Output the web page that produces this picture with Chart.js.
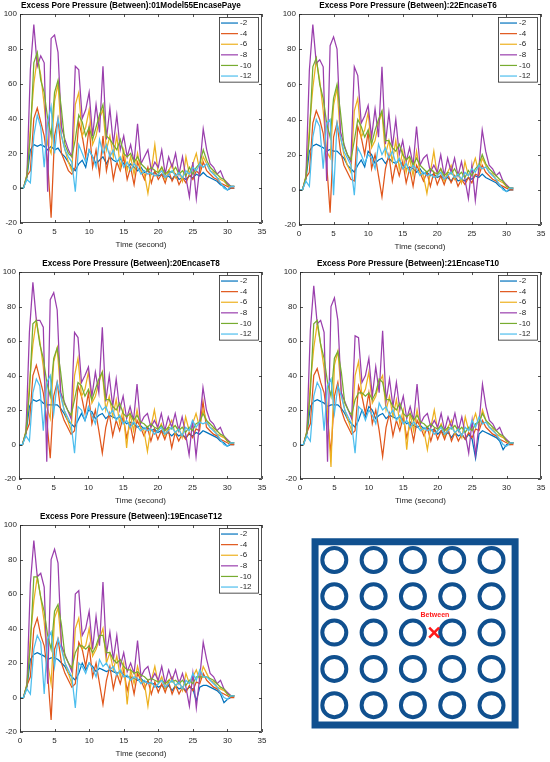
<!DOCTYPE html>
<html>
<head>
<meta charset="utf-8">
<script src="https://cdn.jsdelivr.net/npm/chart.js@4.4.1/dist/chart.umd.min.js"></script>
<style>
html, body { margin: 0; padding: 0; background: #fff; overflow: hidden; }
body { width: 550px; height: 762px; position: relative; }
canvas { position: absolute; }
</style>
</head>
<body>
<canvas id="c1" width="282" height="250" style="left:0px;top:0px"></canvas>
<canvas id="c2" width="290" height="252" style="left:275px;top:0px"></canvas>
<canvas id="c3" width="281" height="256" style="left:0px;top:250px"></canvas>
<canvas id="c4" width="291" height="256" style="left:275px;top:250px"></canvas>
<canvas id="c5" width="282" height="259" style="left:0px;top:500px"></canvas>
<canvas id="c6" width="275" height="262" style="left:275px;top:500px"></canvas>
<script>
// time axis (seconds)
const time = [0,0.5,1,1.5,2,2.5,3,3.5,4,4.5,5,5.5,6,6.5,7,7.5,8,8.5,9,9.5,10,10.5,11,11.5,12,12.5,13,13.5,14,14.5,15,15.5,16,16.5,17,17.5,18,18.5,19,19.5,20,20.5,21,21.5,22,22.5,23,23.5,24,24.5,25,25.5,26,26.5,27,27.5,28,28.5,29,29.5,30,30.5,31];

const depthLabels = ['-2','-4','-6','-8','-10','-12'];
const depthColors = ['#0072BD','#E0561B','#EDB120','#9A3FAD','#77AC30','#4DBEEE'];
const xTicks = [0,5,10,15,20,25,30,35];
const yTicks = [-20,0,20,40,60,80,100];

const titles = [
  'Excess Pore Pressure (Between):01Model55EncasePaye',
  'Excess Pore Pressure (Between):22EncaseT6',
  'Excess Pore Pressure (Between):20EncaseT8',
  'Excess Pore Pressure (Between):21EncaseT10',
  'Excess Pore Pressure (Between):19EncaseT12'
];

// panel 1 : 01Model55EncasePaye
const p1_m2  = [0,0,6,22,25,24,25,24,22,24, 22,23,20,18,15,12,10,14,16,12, 22,18,14,16,18,14,18,16,15,17, 14,12,14,12,10,12,9,10,8,9, 7,8,6,7,5,8,5,6,5,7, 6,8,7,9,7,6,5,4,2,1, -1,0,0];
const p1_m4  = [0,0,7,10,40,46,38,30,15,-17, 30,40,20,15,10,8,12,38,30,18, 35,12,22,8,30,10,20,5,15,10, 18,5,12,2,15,10,5,12,3,10, 5,8,3,10,4,8,2,6,3,8, 5,10,8,15,10,8,6,5,3,2, 1,0,0];
const p1_m6  = [0,0,8,35,60,75,65,48,25,20, 50,60,30,22,15,10,48,55,30,35, 45,25,30,40,45,22,30,18,30,12, 22,10,18,8,20,10,8,-3,10,25, 8,12,5,10,14,6,10,4,18,8, 14,20,10,18,14,10,9,6,5,4, 2,1,1];
const p1_m8  = [0,0,7,68,94,70,76,72,-2,86, 88,78,35,28,22,18,70,68,40,45, 55,30,48,32,70,28,46,25,42,22, 30,18,25,15,37,14,18,22,10,15, 12,22,8,18,12,20,8,18,6,-5, 15,-6,12,34,22,14,12,8,10,5, 3,1,1];
const p1_m10 = [0,0,7,30,72,78,62,55,40,30, 55,62,45,25,20,18,28,42,38,30, 35,28,35,42,48,30,28,25,22,28, 20,18,20,15,18,14,12,10,12,10, 9,12,8,10,9,12,8,10,7,12, 8,12,14,22,16,12,10,8,6,5, 2,1,1];
const p1_m12 = [0,0,5,3,30,42,35,12,38,47, 20,40,30,22,18,15,-2,25,20,15, 22,18,12,28,20,25,18,22,15,18, 12,15,10,14,12,8,10,8,9,7, 8,10,6,8,10,7,9,6,10,8, 12,10,14,12,14,10,8,6,3,0, -1,1,1];

// panel 2 : 22EncaseT6
const p2_m2  = [0,0,6,22,25,26,25,24,22,23, 22,22,20,18,14,12,10,14,17,13, 22,20,15,17,18,15,18,16,15,17, 14,12,13,12,10,12,9,10,8,9, 7,8,6,7,5,8,5,6,5,7, 6,8,7,9,7,6,5,4,2,1, -1,0,0];
const p2_m4  = [0,0,7,10,38,45,40,32,15,-13, 30,38,22,14,10,6,5,36,30,20, 33,12,20,8,-4,12,20,5,15,8, 16,4,12,2,14,10,5,10,2,10, 3,8,3,9,4,8,2,6,3,7, 4,9,8,14,10,8,6,5,3,2, 1,0,0];
const p2_m6  = [0,0,8,35,58,74,62,45,22,18, 48,58,30,20,14,10,45,52,30,34, 44,24,28,38,44,20,28,16,28,12, 22,10,18,8,22,10,8,-2,10,22, 8,12,5,10,14,6,10,4,16,8, 12,18,10,18,14,10,9,6,5,4, 2,1,1];
const p2_m8  = [0,0,7,68,94,72,74,70,5,82, 87,80,33,26,20,16,70,65,38,42, 48,30,46,30,70,26,44,24,40,20, 28,16,24,14,36,14,18,20,10,14, 10,20,8,18,10,18,8,16,6,-5, 14,-6,12,34,22,14,12,8,10,5, 3,1,1];
const p2_m10 = [0,0,7,30,70,75,60,52,38,30, 52,60,44,25,20,17,28,40,36,30, 34,26,34,40,45,28,28,24,22,26, 20,17,19,14,18,14,12,10,12,10, 9,12,8,10,9,12,8,10,7,11, 8,12,14,20,15,12,10,8,6,5, 2,1,1];
const p2_m12 = [0,0,5,2,30,40,36,12,38,40, -3,38,30,22,18,14,-3,24,20,15, 20,18,12,26,20,24,18,22,15,18, 12,15,10,14,12,8,10,8,9,7, 8,10,6,8,10,7,9,6,10,8, 12,10,14,12,13,10,8,6,3,0, -1,1,1];

// panel 3 : 20EncaseT8
const p3_m2  = [0,0,6,22,26,25,26,24,23,23, 23,23,21,18,14,12,10,14,18,14, 20,19,15,17,18,15,17,16,15,16, 14,12,13,12,10,11,9,10,8,9, 7,8,6,7,5,7,5,6,4,6, 5,7,6,8,7,6,5,4,2,1, -1,0,0];
const p3_m4  = [0,0,7,12,40,46,38,30,14,-8, 28,36,20,14,10,6,8,34,28,18, 30,12,20,8,-5,10,18,5,14,8, 16,4,12,2,14,10,5,10,2,9, 3,8,3,9,-2,7,2,6,3,7, 4,9,8,25,10,8,6,5,3,2, 1,0,0];
const p3_m6  = [0,0,8,35,58,72,60,45,22,15, 48,56,30,20,14,8,40,50,28,32, 42,24,28,36,42,20,28,16,26,12, 20,-2,18,8,20,10,8,-4,10,20, 8,12,5,10,14,6,10,4,16,8, 12,18,10,20,14,10,9,6,5,4, 2,1,1];
const p3_m8  = [0,0,7,65,94,72,72,68,-10,84, 88,78,30,25,20,15,65,62,36,40, 45,28,42,30,68,25,40,22,38,20, 28,15,22,14,35,12,16,18,10,14, 10,18,8,16,10,18,8,16,6,-6, 14,-7,12,33,20,14,12,8,10,5, 3,1,1];
const p3_m10 = [0,0,7,30,70,72,58,50,36,28, 50,56,42,24,20,17,26,36,34,28, 32,26,32,38,42,26,26,22,20,24, 18,16,18,14,17,13,12,10,12,10, 9,11,8,10,9,11,8,10,7,10, 8,12,13,18,14,12,10,8,6,5, 2,1,1];
const p3_m12 = [0,0,5,2,30,38,34,8,36,40, 18,36,28,20,16,12,-5,22,20,14, 22,17,12,24,20,22,17,20,14,17, 12,14,10,13,11,8,10,8,9,6, 8,10,6,8,10,7,9,5,10,8, 14,10,13,12,13,10,8,6,3,0, -1,1,1];

// panel 4 : 21EncaseT10
const p4_m2  = [0,0,6,22,25,26,25,24,22,23, 23,23,21,18,14,12,10,14,20,16, 22,20,15,17,18,15,17,16,15,16, 14,12,13,11,10,11,9,10,8,9, 6,8,5,7,4,7,5,6,3,6, 3,-8,6,8,7,6,5,4,2,-3, 0,0,1];
const p4_m4  = [0,0,7,12,40,44,36,30,14,-5, 28,36,20,14,10,6,8,34,28,18, 30,12,20,8,-7,10,18,5,14,8, 16,4,12,2,14,10,5,10,2,9, 3,8,3,9,2,7,2,6,3,7, 4,9,8,14,10,8,6,5,3,2, 1,0,0];
const p4_m6  = [0,0,8,35,56,70,58,44,20,-13, 46,54,30,20,14,8,40,48,28,32, 42,24,28,36,40,20,28,16,26,12, 20,-3,18,8,20,10,8,-3,10,20, 8,12,5,10,14,6,10,4,16,8, 12,18,10,20,14,10,9,6,5,4, 2,1,1];
const p4_m8  = [0,0,7,66,92,70,72,65,-10,80, 85,72,30,25,20,15,63,62,36,40, 50,28,45,30,66,25,38,22,36,20, 28,15,22,14,35,12,16,18,10,14, 10,18,8,16,10,18,8,16,6,-5, 14,-6,12,35,22,14,12,8,10,5, 3,1,1];
const p4_m10 = [0,0,7,30,70,72,58,50,36,28, 50,54,42,24,20,17,26,30,30,28, 30,26,30,38,36,26,26,22,20,24, 18,16,18,14,17,13,12,10,12,10, 9,11,8,10,9,11,8,10,7,10, 8,12,13,18,14,12,10,8,6,5, 2,1,1];
const p4_m12 = [0,0,5,2,28,36,32,8,34,38, 18,34,28,20,16,12,-5,22,20,14, 20,17,12,24,20,22,17,20,14,17, 12,14,10,13,11,8,10,8,9,6, 8,10,6,8,10,7,9,5,10,8, 14,10,16,12,13,10,8,6,3,0, -1,1,1];

// panel 5 : 19EncaseT12
const p5_m2  = [0,0,6,22,25,26,25,24,22,23, 23,22,20,18,14,12,10,14,20,16, 20,18,15,17,16,15,16,15,14,15, 13,12,12,11,10,11,9,9,8,8, 6,7,5,7,4,7,5,6,4,6, 5,-2,6,7,7,6,5,4,2,-3, -1,0,1];
const p5_m4  = [0,0,7,12,40,46,36,30,14,-13, 28,34,20,14,10,6,8,32,28,18, 30,12,20,8,-4,10,18,5,14,8, 16,4,12,2,14,10,5,10,2,9, 3,8,3,9,2,7,2,6,3,7, 4,9,8,14,10,8,6,5,3,2, 1,0,0];
const p5_m6  = [0,0,8,35,56,70,58,44,20,8, 46,52,30,20,14,8,40,46,28,30, 40,24,28,34,40,20,26,16,24,12, 20,-4,16,8,18,10,8,-5,10,18, 8,12,5,10,12,6,10,4,14,8, 12,16,10,18,14,10,9,6,5,4, 2,1,1];
const p5_m8  = [0,0,7,66,91,70,72,64,8,80, 86,78,30,25,20,15,60,62,36,40, 50,28,47,30,67,25,38,22,36,18, 26,15,20,14,33,12,16,18,10,14, 10,18,8,16,10,16,8,14,6,-5, 14,-6,12,32,22,14,12,8,10,5, 3,1,1];
const p5_m10 = [0,0,7,30,70,70,58,50,36,28, 50,54,42,24,20,17,26,30,30,28, 30,26,30,36,36,26,26,22,20,22, 18,16,16,14,15,13,12,10,11,10, 9,10,8,10,9,10,8,10,7,10, 8,12,12,12,12,11,10,8,6,5, 2,1,1];
const p5_m12 = [0,0,5,2,28,36,32,2,34,38, 18,34,28,20,16,12,-6,20,18,14, 20,17,12,22,18,20,16,18,13,16, 12,13,10,12,11,8,10,8,9,6, 8,10,6,8,10,7,9,5,10,8, 14,10,16,12,12,10,8,6,3,0, -1,1,1];

// diagram: 5x5 columns, measuring point between columns
const colIdx = [1,2,3,4,5];
const rowIdx = [1,2,3,4,5];
const boxX = [0.51, 5.6];
const boxY = [0.5, 5.545];
const markX = [3.54];
const markY = [3.0];
const markText = 'Between';

Chart.defaults.font.family = '"Liberation Sans", Arial, sans-serif';
Chart.defaults.animation = false;

const axisColor = '#262626';

// matlab style box with inward ticks + legend box
const matBox = {
  id: 'matBox',
  afterDraw(chart) {
    const {ctx, chartArea: a, scales} = chart;
    const sx = scales.x, sy = scales.y;
    ctx.save();
    ctx.strokeStyle = axisColor;
    ctx.lineWidth = 0.8;
    ctx.strokeRect(a.left + 0.5, a.top + 0.5, a.width - 1, a.height - 1);
    ctx.beginPath();
    xTicks.forEach(v => {
      const px = Math.round(sx.getPixelForValue(v)) + 0.5;
      ctx.moveTo(px, a.bottom); ctx.lineTo(px, a.bottom - 3);
      ctx.moveTo(px, a.top); ctx.lineTo(px, a.top + 3);
    });
    yTicks.forEach(v => {
      const py = Math.round(sy.getPixelForValue(v)) + 0.5;
      ctx.moveTo(a.left, py); ctx.lineTo(a.left + 3, py);
      ctx.moveTo(a.right, py); ctx.lineTo(a.right - 3, py);
    });
    ctx.stroke();

    // legend
    const ds = chart.data.datasets;
    const w = 39, rowH = 10.6;
    const x0 = a.right - 4 - w, y0 = a.top + 3;
    const h = rowH * ds.length + 1;
    ctx.fillStyle = '#fff';
    ctx.fillRect(x0, y0, w, h);
    ctx.lineWidth = 0.8;
    ctx.strokeStyle = axisColor;
    ctx.strokeRect(x0 + 0.5, y0 + 0.5, w, h);
    ctx.font = '8px "Liberation Sans", Arial, sans-serif';
    ctx.textBaseline = 'middle';
    ctx.textAlign = 'left';
    ds.forEach((d, i) => {
      const yy = y0 + 6 + i * rowH;
      ctx.strokeStyle = d.borderColor;
      ctx.lineWidth = 1.2;
      ctx.beginPath();
      ctx.moveTo(x0 + 2, yy); ctx.lineTo(x0 + 19, yy);
      ctx.stroke();
      ctx.fillStyle = axisColor;
      ctx.fillText(d.label, x0 + 21, yy);
    });
    ctx.restore();
  }
};

function makePanel(id, title, series, yw, padTop, xh) {
  const datasets = series.map((vals, i) => ({
    label: depthLabels[i],
    data: vals.map((v, k) => ({x: time[k], y: v})),
    borderColor: depthColors[i],
    borderWidth: 1.25,
    pointRadius: 0,
    tension: 0,
    order: series.length - i
  }));
  new Chart(document.getElementById(id), {
    type: 'line',
    data: {datasets},
    options: {
      responsive: false,
      events: [],
      layout: {padding: {left: 0, right: yw, top: 0, bottom: 0}},
      plugins: {
        legend: {display: false},
        tooltip: {enabled: false},
        title: {
          display: true,
          text: title,
          color: '#000',
          font: {size: 8.2, weight: 'bold'},
          padding: {top: padTop, bottom: 3}
        }
      },
      scales: {
        x: {
          type: 'linear',
          min: 0, max: 35,
          grid: {display: false, drawTicks: false},
          border: {display: false},
          ticks: {stepSize: 5, autoSkip: false, maxRotation: 0, padding: 4, color: axisColor, font: {size: 8}},
          title: {display: true, text: 'Time (second)', color: axisColor, font: {size: 8}, padding: 0},
          afterFit: s => { s.height = xh; }
        },
        y: {
          min: -20, max: 100,
          grid: {display: false, drawTicks: false},
          border: {display: false},
          ticks: {stepSize: 20, padding: 3, color: axisColor, font: {size: 8}},
          afterFit: s => { s.width = yw; }
        }
      }
    },
    plugins: [matBox]
  });
}

makePanel('c1', titles[0], [p1_m2, p1_m4, p1_m6, p1_m8, p1_m10, p1_m12], 20, 1.2, 27);
makePanel('c2', titles[1], [p2_m2, p2_m4, p2_m6, p2_m8, p2_m10, p2_m12], 24, 1.2, 27);
makePanel('c3', titles[2], [p3_m2, p3_m4, p3_m6, p3_m8, p3_m10, p3_m12], 19, 9.2, 27);
makePanel('c4', titles[3], [p4_m2, p4_m4, p4_m6, p4_m8, p4_m10, p4_m12], 25, 9.2, 27);
makePanel('c5', titles[4], [p5_m2, p5_m4, p5_m6, p5_m8, p5_m10, p5_m12], 20, 12.2, 27);

// diagram panel
const blue = '#10508F';
const columnPts = [];
rowIdx.forEach(r => colIdx.forEach(c => columnPts.push({x: c, y: r})));
const framePts = [
  {x: boxX[0], y: boxY[0]}, {x: boxX[1], y: boxY[0]},
  {x: boxX[1], y: boxY[1]}, {x: boxX[0], y: boxY[1]},
  {x: boxX[0], y: boxY[0]}
];

const markLabel = {
  id: 'markLabel',
  afterDatasetsDraw(chart) {
    const {ctx, scales: {x, y}} = chart;
    ctx.save();
    ctx.fillStyle = '#FF1A1A';
    ctx.font = 'bold 7px "Liberation Sans", Arial, sans-serif';
    ctx.textAlign = 'center';
    ctx.textBaseline = 'middle';
    ctx.fillText(markText, x.getPixelForValue(markX[0] + 0.02), y.getPixelForValue(markY[0] - 0.48));
    ctx.restore();
  }
};

new Chart(document.getElementById('c6'), {
  type: 'scatter',
  data: {
    datasets: [
      {
        data: markX.map((v, i) => ({x: v, y: markY[i]})),
        pointStyle: 'crossRot', pointRadius: 7, pointBorderWidth: 2.6,
        borderColor: '#FF1A1A', backgroundColor: '#FF1A1A'
      },
      {
        data: columnPts,
        pointStyle: 'circle', pointRadius: 12, pointBorderWidth: 4,
        borderColor: blue, backgroundColor: 'rgba(0,0,0,0)'
      },
      {
        type: 'line',
        data: framePts,
        borderColor: blue, borderWidth: 7,
        borderJoinStyle: 'miter', borderCapStyle: 'square',
        pointRadius: 0, tension: 0, fill: false
      }
    ]
  },
  options: {
    responsive: false,
    events: [],
    layout: {padding: 0, autoPadding: false},
    plugins: {legend: {display: false}, tooltip: {enabled: false}},
    scales: {
      x: {type: 'linear', display: false, min: -0.509, max: 6.488},
      y: {type: 'linear', display: false, min: -0.653, max: 6.565, reverse: true}
    }
  },
  plugins: [markLabel]
});
</script>
</body>
</html>
